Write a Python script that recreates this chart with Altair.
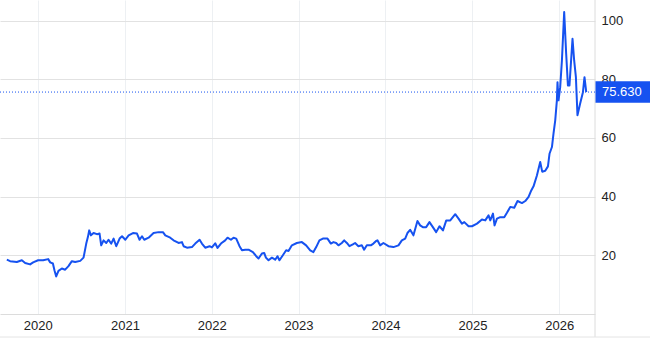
import altair as alt
import pandas as pd

# Decimal-year positions and prices
dec_years = [
    2019.643, 2019.681, 2019.758, 2019.816, 2019.854, 2019.911, 2019.946, 2020.003,
    2020.061, 2020.119, 2020.142, 2020.173, 2020.191, 2020.211, 2020.237, 2020.276,
    2020.314, 2020.352, 2020.391, 2020.429, 2020.487, 2020.525, 2020.556, 2020.575,
    2020.590, 2020.610, 2020.640, 2020.679, 2020.709, 2020.728, 2020.755, 2020.786,
    2020.812, 2020.843, 2020.870, 2020.901, 2020.939, 2020.967, 2021.005, 2021.043,
    2021.093, 2021.139, 2021.169, 2021.197, 2021.223, 2021.273, 2021.330, 2021.388,
    2021.438, 2021.465, 2021.522, 2021.560, 2021.618, 2021.657, 2021.676, 2021.715,
    2021.772, 2021.810, 2021.860, 2021.887, 2021.925, 2021.975, 2022.002, 2022.040,
    2022.067, 2022.106, 2022.155, 2022.182, 2022.221, 2022.251, 2022.282, 2022.320,
    2022.348, 2022.386, 2022.424, 2022.474, 2022.512, 2022.539, 2022.578, 2022.604,
    2022.624, 2022.654, 2022.693, 2022.731, 2022.757, 2022.780, 2022.819, 2022.857,
    2022.884, 2022.923, 2022.980, 2023.038, 2023.087, 2023.134, 2023.171, 2023.203,
    2023.240, 2023.280, 2023.333, 2023.372, 2023.402, 2023.433, 2023.459, 2023.498,
    2023.525, 2023.556, 2023.586, 2023.625, 2023.651, 2023.689, 2023.728, 2023.755,
    2023.786, 2023.832, 2023.862, 2023.893, 2023.908, 2023.939, 2023.977, 2024.035,
    2024.092, 2024.150, 2024.189, 2024.227, 2024.253, 2024.284, 2024.322, 2024.368,
    2024.399, 2024.430, 2024.468, 2024.506, 2024.545, 2024.583, 2024.621, 2024.661,
    2024.699, 2024.745, 2024.802, 2024.840, 2024.879, 2024.906, 2024.955, 2024.994,
    2025.052, 2025.109, 2025.147, 2025.185, 2025.205, 2025.236, 2025.254, 2025.282,
    2025.320, 2025.366, 2025.397, 2025.435, 2025.481, 2025.519, 2025.570, 2025.608,
    2025.646, 2025.677, 2025.703, 2025.742, 2025.780, 2025.803, 2025.838, 2025.869,
    2025.887, 2025.915, 2025.933, 2025.953, 2025.972, 2025.979, 2025.991, 2026.010,
    2026.030, 2026.056, 2026.079, 2026.099, 2026.117, 2026.152, 2026.171, 2026.191,
    2026.209, 2026.240, 2026.272, 2026.290, 2026.310,
]

prices = [
    18.5, 18.0, 17.7, 18.3, 17.4, 16.9, 17.6, 18.3,
    18.3, 18.7, 17.6, 17.2, 14.9, 12.8, 14.7, 15.5,
    15.1, 16.3, 18.0, 17.7, 18.1, 19.2, 24.0, 26.2,
    28.5, 26.8, 27.6, 27.2, 27.4, 23.4, 25.1, 24.2,
    25.3, 24.0, 25.7, 23.1, 25.7, 26.5, 25.3, 26.8,
    27.6, 27.4, 25.3, 26.5, 25.3, 26.0, 27.6, 27.9,
    27.9, 26.8, 26.0, 25.1, 24.2, 24.5, 23.1, 22.6,
    22.8, 24.0, 25.3, 24.0, 22.6, 23.1, 22.7, 24.1,
    22.5, 24.0, 25.1, 26.0, 25.3, 26.0, 25.7, 23.1,
    21.7, 21.9, 21.9, 21.1, 19.7, 18.9, 20.6, 20.8,
    19.2, 18.3, 19.2, 18.5, 19.7, 18.3, 20.0, 21.7,
    21.5, 23.4, 24.2, 24.5, 23.4, 21.7, 21.1, 22.8,
    25.1, 25.7, 25.7, 24.0, 24.5, 24.2, 23.4, 24.2,
    25.1, 24.2, 23.1, 23.7, 24.2, 23.1, 23.4, 21.9,
    23.4, 23.4, 24.0, 24.9, 25.1, 23.4, 24.2, 23.1,
    22.8, 23.4, 25.1, 25.7, 27.6, 28.7, 26.8, 31.7,
    30.2, 29.6, 29.6, 31.3, 29.6, 27.9, 29.9, 28.5,
    31.9, 31.9, 34.0, 32.5, 30.8, 31.3, 29.9, 29.9,
    30.8, 32.2, 31.9, 33.6, 31.9, 34.2, 30.2, 32.5,
    33.0, 33.0, 34.5, 36.5, 36.2, 38.5, 37.8, 38.5,
    39.9, 42.1, 43.5, 47.2, 51.8, 48.5, 48.8, 50.3,
    54.6, 56.9, 61.5, 66.0, 72.8, 79.0, 72.8, 77.3,
    86.4, 102.9, 88.7, 77.9, 77.9, 93.8, 86.4, 80.7,
    67.7, 71.7, 75.6, 80.7, 75.63,
]

last_price = 75.63
year_ticks = [2020, 2021, 2022, 2023, 2024, 2025, 2026]
price_ticks = [20, 40, 60, 80, 100]


def to_date(t):
    y = int(t)
    start = pd.Timestamp(year=y, month=1, day=1)
    end = pd.Timestamp(year=y + 1, month=1, day=1)
    return start + (end - start) * (t - y)


df = pd.DataFrame({"date": [to_date(t) for t in dec_years], "price": prices})
last_df = pd.DataFrame({"price": [last_price], "label": [f"{last_price:.3f}"]})

BLUE = "#1652f0"
FONT = "Liberation Sans"
W, H = 595, 314

x_scale = alt.Scale(domain=[alt.DateTime(year=2019, month=7, date=26),
                            alt.DateTime(year=2026, month=5, date=31)])
y_scale = alt.Scale(domain=[0, 107], nice=False, zero=False)

line = alt.Chart(df).mark_line(color=BLUE, strokeWidth=2, strokeJoin="round").encode(
    x=alt.X("date:T", scale=x_scale,
            axis=alt.Axis(values=[alt.DateTime(year=y, month=1, date=1) for y in year_ticks],
                          format="%Y", title=None, grid=True, gridColor="#edf0f3",
                          domainColor="#dcdcdc", ticks=False, labelFont=FONT,
                          labelFontSize=13, labelColor="#222222", labelPadding=5,
                          labelAngle=0)),
    y=alt.Y("price:Q", scale=y_scale,
            axis=alt.Axis(orient="right", values=price_ticks, title=None, grid=True,
                          gridColor="#e2e2e2", domain=False, ticks=False,
                          labelFont=FONT, labelFontSize=13, labelColor="#222222",
                          labelPadding=6)),
)

right_edge = alt.Chart(last_df).mark_rule(color="#dcdcdc", strokeWidth=1).encode(
    x=alt.value(W), y=alt.value(0), y2=alt.value(337)
)
bottom_border = alt.Chart(last_df).mark_rule(color="#e4e4e4", strokeWidth=1).encode(
    x=alt.value(0), x2=alt.value(650), y=alt.value(337)
)

dotted = alt.Chart(last_df).mark_rule(color=BLUE, strokeDash=[1, 2], strokeWidth=1).encode(
    y=alt.Y("price:Q", scale=y_scale), x=alt.value(0), x2=alt.value(W)
)

box = alt.Chart(last_df).mark_point(
    shape="M-1,-0.39H1V0.39H-1Z", filled=True, size=3025, color=BLUE,
    opacity=1, strokeWidth=0
).encode(y=alt.Y("price:Q", scale=y_scale), x=alt.value(623))

label = alt.Chart(last_df).mark_text(
    color="white", fontSize=13, font=FONT, align="left", baseline="middle"
).encode(y=alt.Y("price:Q", scale=y_scale), x=alt.value(602), text="label:N")

chart = alt.layer(line, right_edge, bottom_border, dotted, box, label).properties(
    width=W, height=H,
    autosize=alt.AutoSizeParams(type="none"),
    padding={"left": 0, "top": 0, "right": 55, "bottom": 26},
    background="white",
).configure_view(stroke=None)

chart.save("out.html", embed_options={"renderer": "svg", "actions": False})
